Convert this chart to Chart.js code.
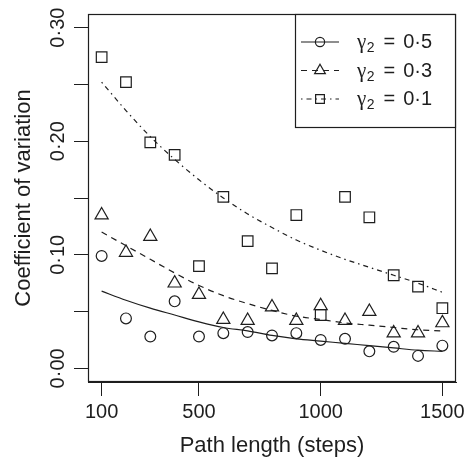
<!DOCTYPE html>
<html>
<head>
<meta charset="utf-8">
<script src="https://cdn.jsdelivr.net/npm/chart.js@4/dist/chart.umd.min.js"></script>
<style>
  html, body { margin: 0; padding: 0; background: #fff; }
  #wrap { width: 470px; height: 460px; }
</style>
</head>
<body>
<div id="wrap"><canvas id="c" width="470" height="460"></canvas></div>
<script>
// ---- data ----
const pathLengths = [100,200,300,400,500,600,700,800,900,1000,1100,1200,1300,1400,1500];
const cvGamma05 = [0.099,0.044,0.028,0.059,0.028,0.031,0.032,0.029,0.031,0.025,0.026,0.015,0.019,0.011,0.020];
const cvGamma03 = [0.135,0.102,0.116,0.075,0.065,0.043,0.042,0.054,0.042,0.055,0.042,0.050,0.031,0.031,0.040];
const cvGamma01 = [0.274,0.252,0.199,0.188,0.090,0.151,0.112,0.088,0.135,0.047,0.151,0.133,0.082,0.072,0.053];
const fitGamma05 = [0.068,0.060,0.053,0.047,0.041,0.036,0.033,0.029,0.026,0.024,0.022,0.020,0.018,0.016,0.015];
const fitGamma03 = [0.120,0.108,0.096,0.084,0.073,0.064,0.057,0.051,0.046,0.043,0.040,0.038,0.036,0.034,0.033];
const fitGamma01 = [0.252,0.227,0.204,0.184,0.166,0.150,0.136,0.124,0.113,0.104,0.096,0.089,0.082,0.075,0.067];
const xTickValues = [100,500,1000,1500];
const yTickValues = [0,0.05,0.10,0.15,0.20,0.25,0.30];
const yLabelledTicks = [0,0.10,0.20,0.30];
const legendSymbol = 'γ';
const legendSub = '2';
const legendValues = ['0·5','0·3','0·1'];
const xTitle = 'Path length (steps)';
const yTitle = 'Coefficient of variation';

const INK = '#1e1e1e';
const FONT = "'Liberation Sans', Arial, Helvetica, sans-serif";

function pts(ys) { return pathLengths.map((x, i) => ({x: x, y: ys[i]})); }

const styles = [
  {style: 'circle', radius: 5.4, dash: [], legendRadius: 4.6},
  {style: 'triangle', radius: 7.6, dash: [6, 5], legendRadius: 6.2},
  {style: 'rect', radius: 7.5, dash: [1.5, 4, 5, 4], legendRadius: 6.2}
];

function pointSet(ys, s) {
  return {
    type: 'line', data: pts(ys), showLine: false,
    pointStyle: s.style, pointRadius: s.radius, pointHoverRadius: s.radius,
    pointBorderColor: INK, pointBackgroundColor: 'rgba(0,0,0,0)', pointBorderWidth: 1.2,
    borderColor: INK, backgroundColor: 'rgba(0,0,0,0)'
  };
}
function fitSet(ys, s) {
  return {
    type: 'line', data: pts(ys), pointRadius: 0, pointHoverRadius: 0,
    borderColor: INK, borderWidth: 1.2, borderDash: s.dash,
    cubicInterpolationMode: 'monotone', fill: false
  };
}

function drawMarker(ctx, style, x, y, r) {
  ctx.beginPath();
  if (style === 'circle') {
    ctx.arc(x, y, r, 0, Math.PI * 2);
  } else if (style === 'triangle') {
    let a = 0;
    ctx.moveTo(x + Math.sin(a) * r, y - Math.cos(a) * r);
    a += Math.PI * 2 / 3;
    ctx.lineTo(x + Math.sin(a) * r, y - Math.cos(a) * r);
    a += Math.PI * 2 / 3;
    ctx.lineTo(x + Math.sin(a) * r, y - Math.cos(a) * r);
    ctx.closePath();
  } else {
    const s = Math.SQRT1_2 * r;
    ctx.rect(x - s, y - s, 2 * s, 2 * s);
  }
  ctx.stroke();
}

const framePlugin = {
  id: 'frameAndLegend',
  afterDraw(chart) {
    const ctx = chart.ctx;
    const a = chart.chartArea;
    ctx.save();
    ctx.strokeStyle = INK;
    ctx.lineWidth = 1.2;
    ctx.setLineDash([]);
    ctx.strokeRect(a.left + 0.5, a.top + 0.5, a.right - a.left - 1, a.bottom - a.top - 1);

    // legend box (top-right inside plot)
    const bx = a.right - 161, by = a.top, bw = 161, bh = 114;
    ctx.fillStyle = '#fff';
    ctx.fillRect(bx, by, bw, bh);
    ctx.strokeRect(bx + 0.5, by + 0.5, bw - 1, bh - 1);

    const rows = [by + 28, by + 56.5, by + 85];
    for (let i = 0; i < 3; i++) {
      const y = rows[i];
      const s = styles[i];
      ctx.lineWidth = 1.2;
      ctx.setLineDash(s.dash);
      ctx.beginPath();
      ctx.moveTo(bx + 6, y);
      ctx.lineTo(bx + 44, y);
      ctx.stroke();
      ctx.setLineDash([]);
      drawMarker(ctx, s.style, bx + 25, y, s.legendRadius);

      ctx.fillStyle = INK;
      ctx.textBaseline = 'alphabetic';
      ctx.textAlign = 'left';
      let tx = bx + 62;
      const base = y + 6;
      ctx.font = "21px 'Liberation Serif', 'DejaVu Serif', serif";
      ctx.fillText(legendSymbol, tx, base);
      tx += ctx.measureText(legendSymbol).width + 0.5;
      ctx.font = "14px " + FONT;
      ctx.fillText(legendSub, tx, base + 4);
      tx += ctx.measureText(legendSub).width + 9;
      ctx.font = "20px " + FONT;
      ctx.fillText('=', tx, base);
      tx += ctx.measureText('=').width + 8;
      ctx.fillText(legendValues[i], tx, base);
    }
    ctx.restore();
  }
};

new Chart(document.getElementById('c'), {
  data: {
    datasets: [
      fitSet(fitGamma05, styles[0]),
      fitSet(fitGamma03, styles[1]),
      fitSet(fitGamma01, styles[2]),
      pointSet(cvGamma05, styles[0]),
      pointSet(cvGamma03, styles[1]),
      pointSet(cvGamma01, styles[2])
    ]
  },
  options: {
    responsive: false,
    animation: false,
    events: [],
    layout: { padding: { left: 0, top: 14, right: 14, bottom: 0 } },
    plugins: { legend: { display: false }, tooltip: { enabled: false } },
    scales: {
      x: {
        type: 'linear', min: 44, max: 1556,
        afterBuildTicks(scale) { scale.ticks = xTickValues.map(v => ({value: v})); },
        afterFit(scale) { scale.height = 78; },
        ticks: {
          autoSkip: false, maxRotation: 0, minRotation: 0, padding: 4,
          color: INK, font: { family: FONT, size: 20 },
          callback: v => String(v)
        },
        grid: { display: true, drawOnChartArea: false, drawTicks: true, tickLength: 14, color: INK, lineWidth: 1 },
        border: { display: true, color: INK, width: 1 },
        title: { display: true, text: xTitle, color: INK, font: { family: FONT, size: 22 }, padding: { top: 0, bottom: 1 } }
      },
      y: {
        type: 'linear', min: -0.012, max: 0.312,
        afterBuildTicks(scale) { scale.ticks = yTickValues.map(v => ({value: v})); },
        afterFit(scale) { scale.width = 88; },
        ticks: {
          autoSkip: false, minRotation: 90, maxRotation: 90, crossAlign: 'center', padding: -4.5,
          color: INK, font: { family: FONT, size: 20 },
          callback: v => yLabelledTicks.some(t => Math.abs(t - v) < 1e-9) ? v.toFixed(2).replace('.', '·') : ''
        },
        grid: { display: true, drawOnChartArea: false, drawTicks: true, tickLength: 14, color: INK, lineWidth: 1 },
        border: { display: true, color: INK, width: 1 },
        title: { display: true, text: yTitle, color: INK, font: { family: FONT, size: 22 }, padding: { top: 11, bottom: 0 } }
      }
    }
  },
  plugins: [framePlugin]
});
</script>
</body>
</html>
